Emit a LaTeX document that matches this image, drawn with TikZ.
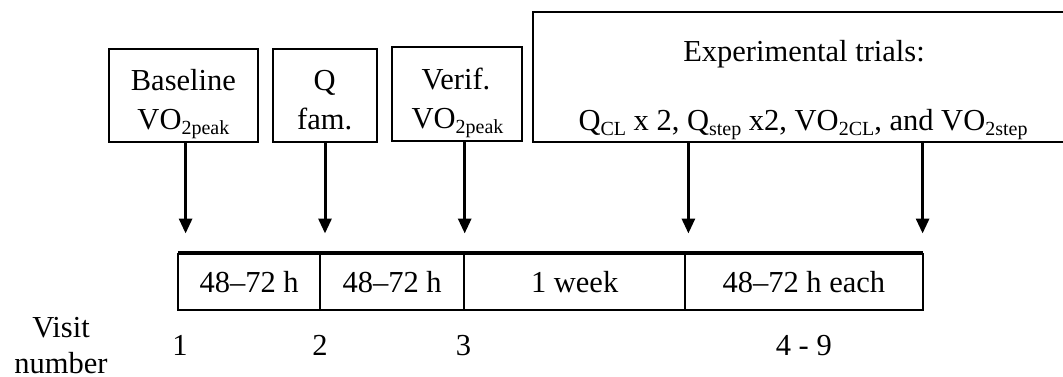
\documentclass[tikz,border=0pt]{standalone}
\usepackage{fontspec}
\setmainfont{Liberation Serif}
\usetikzlibrary{arrows.meta}
% lowered, smaller text used for subscripts such as VO2peak
\newcommand{\lowtxt}[1]{\raisebox{-0.15em}{\fontsize{20}{20}\selectfont #1}}

\begin{document}
\begin{tikzpicture}[x=1pt,y=-1pt,
  every node/.style={font=\fontsize{30.5}{36}\selectfont, inner sep=0pt, outer sep=0pt},
  visitbox/.style={draw, line width=2pt, rectangle},
  segbox/.style={draw, line width=2pt, rectangle, minimum height=56pt},
  lbl/.style={anchor=base},
  arr/.style={line width=3pt, -{Triangle[width=13pt,length=15pt]}}
]
\clip (0,0) rectangle (1063,377);

% visit boxes
\node[visitbox, minimum width=148.7pt, minimum height=92.7pt] (b1) at (183.4,95.6) {};
\node[visitbox, minimum width=104pt,   minimum height=92.7pt] (b2) at (324.7,95.6) {};
\node[visitbox, minimum width=130.6pt, minimum height=93.5pt] (b3) at (457,94.2) {};
\node[visitbox, minimum width=547.5pt, minimum height=130pt]  (b4) at (806.3,77.5) {};

% box texts
\node[lbl] (b1t1) at (183.4,91)  {Baseline};
\node[lbl] (b1t2) at (183.4,130) {VO\lowtxt{2peak}};
\node[lbl] (b2t1) at (324.7,91)  {Q};
\node[lbl] (b2t2) at (324.7,130) {fam.};
\node[lbl] (b3t1) at (456,90)    {Verif.};
\node[lbl] (b3t2) at (457.5,129) {VO\lowtxt{2peak}};
\node[lbl] (b4t1) at (804,62)    {Experimental trials:};
\node[lbl] (b4t2) at (803,131)   {Q\lowtxt{CL} x 2, Q\lowtxt{step} x2, VO\lowtxt{2CL}, and VO\lowtxt{2step}};

% timeline segments
\node[segbox, minimum width=141.7pt] (s1) at (249.15,282) {48–72 h};
\node[segbox, minimum width=144.3pt] (s2) at (392.15,282) {48–72 h};
\node[segbox, minimum width=220.7pt] (s3) at (574.65,282) {1 week};
\node[segbox, minimum width=237.7pt] (s4) at (803.85,282) {48–72 h each};
\draw[line width=4pt] ([yshift=1pt]s1.north west) -- ([yshift=1pt]s4.north east);

% arrow end points above the timeline
\coordinate (a1) at (185.6,233.5);
\coordinate (a2) at (325,233.5);
\coordinate (a3) at (464.7,233.5);
\coordinate (a4) at (688.4,233.5);
\coordinate (a5) at (922.6,233.5);

\draw[arr] (b1.south -| a1) -- (a1);
\draw[arr] (b2.south -| a2) -- (a2);
\draw[arr] (b3.south -| a3) -- (a3);
\draw[arr] (b4.south -| a4) -- (a4);
\draw[arr] (b4.south -| a5) -- (a5);

% visit numbers
\node[lbl] (vl1) at (61,337)    {Visit};
\node[lbl] (vl2) at (61,373)    {number};
\node[lbl] (v1)  at (180,355.5) {1};
\node[lbl] (v2)  at (320,355.5) {2};
\node[lbl] (v3)  at (463.5,355.5) {3};
\node[lbl] (v4)  at (803.8,355) {4 - 9};
\end{tikzpicture}
\end{document}
